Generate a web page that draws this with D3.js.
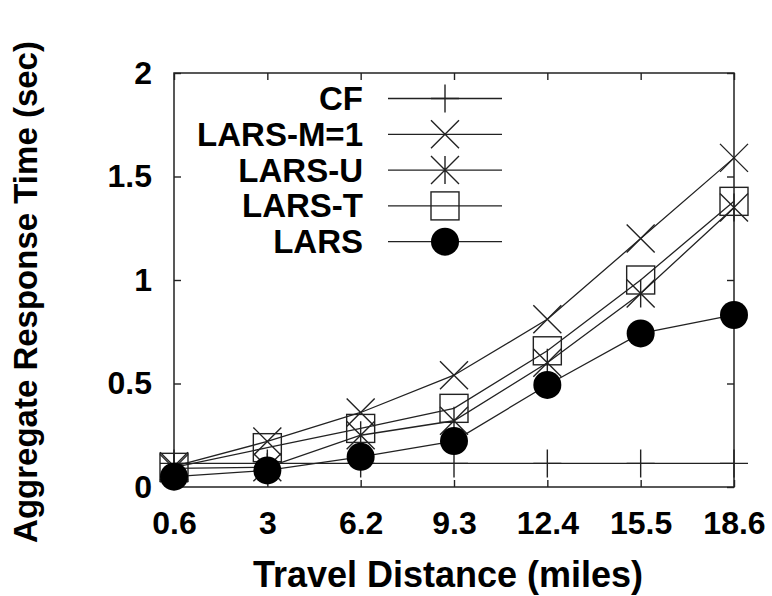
<!DOCTYPE html>
<html>
<head>
<meta charset="utf-8">
<script src="https://cdn.jsdelivr.net/npm/d3@7"></script>
<style>
  html, body { margin: 0; padding: 0; background: #fff; }
  svg { display: block; font-family: "Liberation Sans", Arial, sans-serif; font-weight: bold; }
</style>
</head>
<body>
<svg id="chart" width="772" height="596"></svg>
<script>
// data
const categories = ['0.6', '3', '6.2', '9.3', '12.4', '15.5', '18.6'];
const yTicks = [0, 0.5, 1, 1.5, 2];
const cf     = [0.114, 0.114, 0.114, 0.114, 0.114, 0.114, 0.114];
const larsM1 = [0.10, 0.22, 0.36, 0.54, 0.81, 1.20, 1.59];
const larsU  = [0.09, 0.095, 0.25, 0.32, 0.60, 0.935, 1.35];
const larsT  = [0.095, 0.19, 0.283, 0.38, 0.658, 1.00, 1.38];
const lars   = [0.05, 0.08, 0.146, 0.222, 0.493, 0.742, 0.831];
const seriesNames = ['CF', 'LARS-M=1', 'LARS-U', 'LARS-T', 'LARS'];
const seriesValues = [cf, larsM1, larsU, larsT, lars];
const seriesMarkers = ['plus', 'cross', 'star', 'square', 'circle'];

const INK = '#222';
const M = { left: 174, right: 734, top: 73, bottom: 487 };

const svg = d3.select('#chart');

const x = d3.scalePoint().domain(categories).range([M.left, M.right]).padding(0);
const y = d3.scaleLinear().domain([0, 2]).range([M.bottom, M.top]);

// ── markers ──────────────────────────────────────────────────────────────
const S = 14;
function drawMarker(sel, type) {
  if (type === 'circle') {
    sel.append('circle').attr('r', S).attr('fill', '#000');
    return;
  }
  if (type === 'square') {
    sel.append('rect').attr('x', -S).attr('y', -S).attr('width', 2 * S).attr('height', 2 * S)
      .attr('fill', 'none').attr('stroke', INK).attr('stroke-width', 1.4);
    return;
  }
  const paths = {
    plus:  `M${-S},0H${S}M0,${-S}V${S}`,
    cross: `M${-S},${-S}L${S},${S}M${-S},${S}L${S},${-S}`,
    star:  `M${-S},${-S}L${S},${S}M${-S},${S}L${S},${-S}M0,${-S}V${S}`,
  };
  sel.append('path').attr('d', paths[type]).attr('fill', 'none')
    .attr('stroke', INK).attr('stroke-width', 1.4);
}

// ── axes (ticks point inward on all four sides) ─────────────────────────
const styleAxis = g => {
  g.select('.domain').remove();
  g.selectAll('line').attr('stroke', INK).attr('stroke-width', 1.4);
  g.selectAll('text').attr('fill', '#000').attr('font-size', 32)
    .attr('font-family', '"Liberation Sans", Arial, sans-serif').attr('font-weight', 'bold');
};

svg.append('g').attr('transform', `translate(0,${M.bottom})`)
  .call(d3.axisBottom(x).tickSizeInner(-7).tickSizeOuter(0).tickPadding(24))
  .call(styleAxis);
svg.append('g').attr('transform', `translate(0,${M.top})`)
  .call(d3.axisTop(x).tickSizeInner(-7).tickSizeOuter(0).tickFormat(''))
  .call(styleAxis);
svg.append('g').attr('transform', `translate(${M.left},0)`)
  .call(d3.axisLeft(y).tickValues(yTicks).tickSizeInner(-7).tickSizeOuter(0).tickPadding(22)
    .tickFormat(d3.format('~g')))
  .call(styleAxis);
svg.append('g').attr('transform', `translate(${M.right},0)`)
  .call(d3.axisRight(y).tickValues(yTicks).tickSizeInner(-7).tickSizeOuter(0).tickFormat(''))
  .call(styleAxis);

svg.append('rect')
  .attr('x', M.left).attr('y', M.top)
  .attr('width', M.right - M.left).attr('height', M.bottom - M.top)
  .attr('fill', 'none').attr('stroke', INK).attr('stroke-width', 1.5);

// ── axis titles ─────────────────────────────────────────────────────────
svg.append('text')
  .attr('x', 448).attr('y', 587)
  .attr('text-anchor', 'middle').attr('font-size', 36)
  .text('Travel Distance (miles)');

svg.append('text')
  .attr('transform', 'translate(37,292) rotate(-90)')
  .attr('text-anchor', 'middle').attr('font-size', 33)
  .text('Aggregate Response Time (sec)');

// ── series ──────────────────────────────────────────────────────────────
const line = d3.line().x((d, i) => x(categories[i])).y(d => y(d));

seriesValues.forEach((vals, si) => {
  const g = svg.append('g').attr('class', 'series');
  g.append('path').attr('d', line(vals))
    .attr('fill', 'none').attr('stroke', INK).attr('stroke-width', 1.3);
  g.selectAll('g.pt').data(vals).join('g')
    .attr('class', 'pt')
    .attr('transform', (d, i) => `translate(${x(categories[i])},${y(d)})`)
    .each(function () { drawMarker(d3.select(this), seriesMarkers[si]); });
});

// ── legend ──────────────────────────────────────────────────────────────
const legend = svg.append('g').attr('class', 'legend');
seriesNames.forEach((name, i) => {
  const cy = 98.5 + i * 35.8;
  const row = legend.append('g');
  row.append('text')
    .attr('x', 363).attr('y', cy + 11.5)
    .attr('text-anchor', 'end').attr('font-size', 33)
    .text(name);
  row.append('line')
    .attr('x1', 388).attr('x2', 502).attr('y1', cy).attr('y2', cy)
    .attr('stroke', INK).attr('stroke-width', 1.3);
  const m = row.append('g').attr('transform', `translate(445,${cy})`);
  drawMarker(m, seriesMarkers[i]);
});
</script>
</body>
</html>
